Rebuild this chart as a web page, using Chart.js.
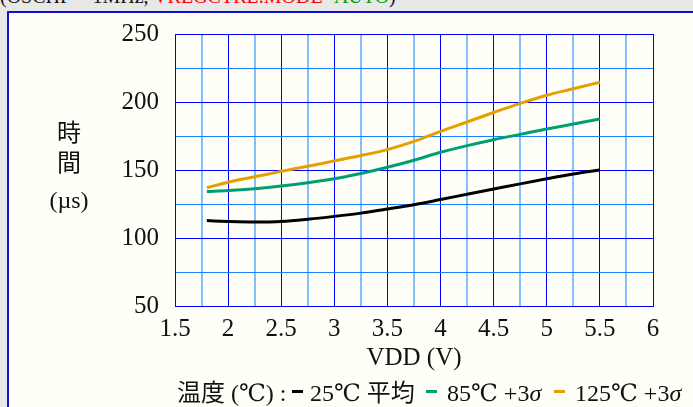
<!DOCTYPE html>
<html>
<head>
<meta charset="utf-8">
<script src="https://cdn.jsdelivr.net/npm/chart.js@4.4.1/dist/chart.umd.min.js"></script>
<style>
  html, body { margin: 0; padding: 0; }
  body {
    width: 693px; height: 407px; overflow: hidden; position: relative;
    background: #e8e8e8; color: #111;
    font-family: "Liberation Serif", "DejaVu Serif", "Noto Sans CJK JP", serif;
  }
  .caption { position: absolute; left: 0; top: -14px; font-size: 20px; line-height: 20px; white-space: nowrap; }
  .red { color: #ff0000; }
  .green { color: #00a000; }
  .box { position: absolute; left: 7px; top: 11px; width: 720px; height: 420px; border: 2px solid #1010d0; background: #fffff7; }
  #wrap { position: absolute; left: 0; top: 0; width: 693px; height: 407px; }
  .ylab { position: absolute; width: 60px; left: 39px; text-align: center; font-size: 24px; line-height: 30px; height: 30px; }
  .leg { position: absolute; top: 381px; font-size: 24px; line-height: 24px; white-space: nowrap; }
  .dash { position: absolute; top: 390px; width: 11px; height: 3px; }
</style>
</head>
<body>
<div class="caption">(OSCHF = 1MHz, <span class="red">VREGCTRL.MODE=</span><span class="green">AUTO</span>)</div>
<div class="box"></div>
<div id="wrap"><canvas id="chart" width="693" height="407"></canvas></div>

<div class="ylab" style="top:118px">時</div>
<div class="ylab" style="top:148px">間</div>
<div class="ylab" style="top:185px">(µs)</div>

<div class="leg" style="left:177px">温度 (℃) :</div>
<div class="dash" style="left:292px; background:#000000"></div>
<div class="leg" style="left:310px">25℃ 平均</div>
<div class="dash" style="left:426px; background:#009e73"></div>
<div class="leg" style="left:447px">85℃ +3<i>σ</i></div>
<div class="dash" style="left:554px; background:#e69f00"></div>
<div class="leg" style="left:575px">125℃ +3<i>σ</i></div>

<script>
// VDD (V)
const vdd = [1.8, 2.0, 2.25, 2.5, 2.75, 3.0, 3.25, 3.5, 3.75, 4.0, 4.25, 4.5, 4.75, 5.0, 5.25, 5.5];
// time (us)
const avg25 = [112.8, 112.2, 111.8, 112.2, 113.8, 115.9, 118.3, 121.3, 124.5, 128.3, 132.2, 136.0, 139.8, 143.5, 147.0, 150.0];
const sigma85 = [134.2, 134.9, 136.3, 138.2, 140.6, 143.5, 147.4, 152.0, 157.2, 163.0, 167.9, 172.3, 176.2, 180.1, 183.8, 187.5];
const sigma125 = [137.0, 141.0, 145.0, 149.0, 152.7, 156.7, 160.6, 165.0, 171.0, 178.4, 185.3, 192.3, 199.0, 205.0, 209.8, 214.5];

const xLabels = ['1.5', '2', '2.5', '3', '3.5', '4', '4.5', '5', '5.5', '6'];
const yLabels = ['50', '100', '150', '200', '250'];

function toPoints(ys) {
    return vdd.map((x, i) => ({ x: x, y: ys[i] }));
}

Chart.defaults.font.family = '"Liberation Serif", "DejaVu Serif", "Noto Sans CJK JP", serif';
Chart.defaults.color = '#111';

const ctx = document.getElementById('chart').getContext('2d');
const chart = new Chart(ctx, {
    type: 'line',
    data: {
        datasets: [
            { label: '25℃ 平均', data: toPoints(avg25), borderColor: '#000000' },
            { label: '85℃ +3σ', data: toPoints(sigma85), borderColor: '#009e73' },
            { label: '125℃ +3σ', data: toPoints(sigma125), borderColor: '#e69f00' }
        ]
    },
    options: {
        responsive: false,
        animation: false,
        devicePixelRatio: 1,
        layout: { padding: { top: 34, right: 40, left: 0, bottom: 0 } },
        elements: {
            line: { borderWidth: 3, cubicInterpolationMode: 'monotone', fill: false },
            point: { radius: 0, hoverRadius: 0 }
        },
        plugins: {
            legend: { display: false },
            tooltip: { enabled: false }
        },
        scales: {
            x: {
                type: 'linear',
                min: 1.5,
                max: 6,
                afterFit: function(scale) { scale.height = 101; },
                ticks: {
                    stepSize: 0.25,
                    padding: 8,
                    maxRotation: 0,
                    autoSkip: false,
                    font: { size: 25 },
                    callback: function(value) {
                        const i = Math.round((value - 1.5) * 2);
                        return Math.abs((value - 1.5) * 2 - i) < 1e-6 ? xLabels[i] : '';
                    }
                },
                grid: {
                    drawTicks: false,
                    color: c => Number.isInteger(Math.round(c.tick.value * 400) / 200) ? '#0000ff' : '#80c0ff',
                    lineWidth: c => Number.isInteger(Math.round(c.tick.value * 400) / 200) ? 1 : 2
                },
                border: { color: '#0000ff', width: 1 },
                title: {
                    display: true,
                    text: 'VDD (V)',
                    font: { size: 25 },
                    padding: { top: 0, bottom: 34 }
                }
            },
            y: {
                min: 50,
                max: 250,
                afterFit: function(scale) { scale.width = 175; },
                ticks: {
                    stepSize: 25,
                    padding: 16,
                    font: { size: 25 },
                    callback: function(value) {
                        return value % 50 === 0 ? yLabels[(value - 50) / 50] : '';
                    }
                },
                grid: {
                    drawTicks: false,
                    color: c => c.tick.value % 50 === 0 ? '#0000ff' : '#1a80ff',
                    lineWidth: 1
                },
                border: { color: '#0000ff', width: 1 }
            }
        }
    }
});
</script>
</body>
</html>
